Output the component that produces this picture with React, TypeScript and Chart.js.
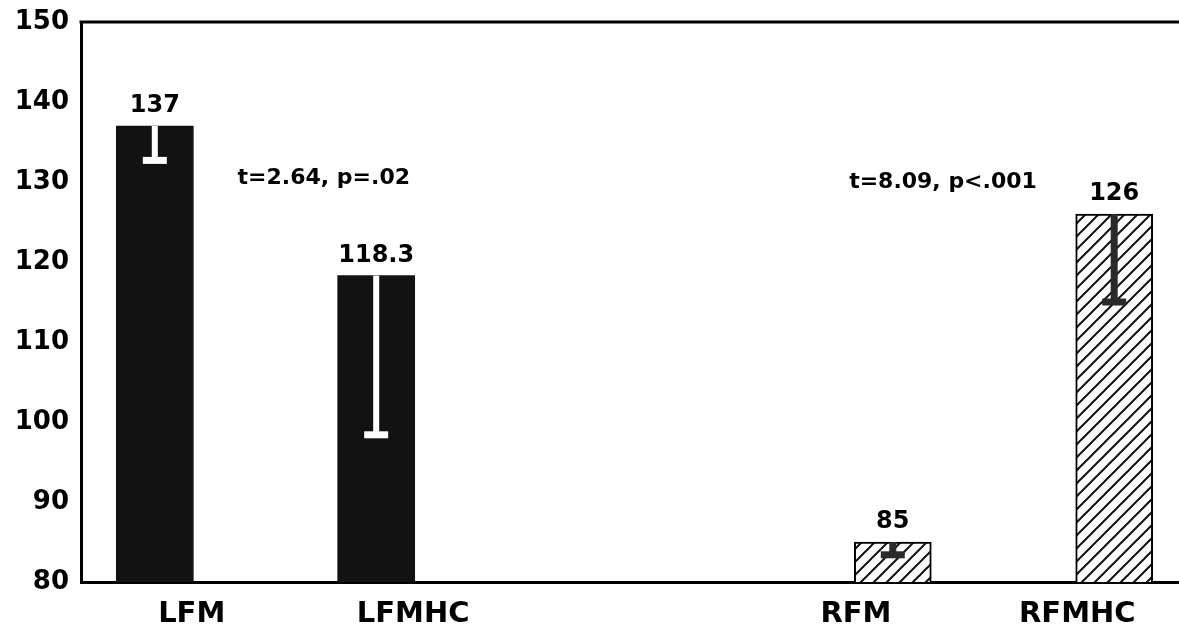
import React, { useEffect, useRef } from "react";
import { Chart, registerables } from "chart.js";

Chart.register(...registerables);

// ---- data ----
const categories = ["LFM", "LFMHC", "RFM", "RFMHC"];
const means = [137, 118.3, 85, 126];
const errorLow = [132.7, 98.4, 83.4, 115];
const hatched = [false, false, true, true];
// category slots of the x axis (blank entries are spacing slots)
const barSlots = ["", "LFM", "", "", "LFMHC", "", "", "", "", "", "", "RFM", "", "", "RFMHC", ""];
const labelSlots = ["", "LFM", "", "", "LFMHC", "", "", "", "", "", "RFM", "", "", "RFMHC", ""];
const yMin = 80;
const yMax = 150;
const yStep = 10;
const annotationTexts = ["t=2.64, p=.02", "t=8.09, p<.001"];
const annotationSlot = [3.29, 11.68];
const annotationValue = [129.75, 129.25];

const FONT = "'DejaVu Sans', 'Liberation Sans', sans-serif";

function makeHatch(): CanvasPattern | string {
  const size = 13;
  const c = document.createElement("canvas");
  c.width = size;
  c.height = size;
  const g = c.getContext("2d");
  if (!g) return "#fff";
  g.fillStyle = "#fff";
  g.fillRect(0, 0, size, size);
  g.strokeStyle = "#111";
  g.lineWidth = 2;
  g.beginPath();
  g.moveTo(-2, size + 2);
  g.lineTo(size + 2, -2);
  g.moveTo(-3, 3);
  g.lineTo(3, -3);
  g.moveTo(size - 3, size + 3);
  g.lineTo(size + 3, size - 3);
  g.stroke();
  const p = g.createPattern(c, "repeat");
  return p || "#fff";
}

export default function App() {
  const ref = useRef<HTMLCanvasElement | null>(null);

  useEffect(() => {
    const canvas = ref.current;
    if (!canvas) return;
    const hatch = makeHatch();
    const catOf = (slotIndex: number) => categories.indexOf(barSlots[slotIndex]);
    const data = barSlots.map((s) => {
      const i = categories.indexOf(s);
      return i >= 0 ? means[i] : null;
    });

    const overlay = {
      id: "overlay",
      afterDatasetsDraw(chart: any) {
        const ctx = chart.ctx;
        const meta = chart.getDatasetMeta(0);
        const ys = chart.scales.y;
        const xs = chart.scales.x;
        ctx.save();
        categories.forEach((c, i) => {
          const idx = barSlots.indexOf(c);
          const el = meta.data[idx];
          if (!el) return;
          const xc = el.x;
          const top = el.y;
          const low = ys.getPixelForValue(errorLow[i]);
          ctx.fillStyle = hatched[i] ? "#2a2a2a" : "#ffffff";
          const stem = hatched[i] ? 7 : 6;
          ctx.fillRect(xc - stem / 2, top, stem, low - top);
          ctx.fillRect(xc - 12, low - 3.5, 24, 7);
          ctx.fillStyle = "#000";
          ctx.font = `bold 24px ${FONT}`;
          ctx.textAlign = "center";
          ctx.textBaseline = "alphabetic";
          ctx.fillText(String(means[i]), xc, top - 14);
        });
        ctx.font = `bold 22px ${FONT}`;
        ctx.textAlign = "center";
        ctx.textBaseline = "alphabetic";
        ctx.fillStyle = "#000";
        annotationTexts.forEach((t, i) => {
          ctx.fillText(t, xs.getPixelForValue(annotationSlot[i]), ys.getPixelForValue(annotationValue[i]));
        });
        // top frame line
        const ca = chart.chartArea;
        ctx.strokeStyle = "#000";
        ctx.lineWidth = 3;
        ctx.beginPath();
        ctx.moveTo(ca.left - 1.5, ca.top);
        ctx.lineTo(chart.width, ca.top);
        ctx.stroke();
        ctx.restore();
      },
    };

    const chart = new Chart(canvas, {
      type: "bar",
      data: {
        labels: barSlots,
        datasets: [
          {
            data,
            backgroundColor: (c: any) => (hatched[catOf(c.dataIndex)] ? hatch : "#121212"),
            borderColor: "#000",
            borderWidth: (c: any) => (hatched[catOf(c.dataIndex)] ? 2 : 0),
            barThickness: 77,
          } as any,
        ],
      },
      options: {
        animation: false,
        responsive: false,
        devicePixelRatio: 1,
        layout: { padding: { top: 22, left: 0, right: 0, bottom: 0 } },
        plugins: { legend: { display: false }, tooltip: { enabled: false } },
        scales: {
          x: {
            type: "category",
            offset: false,
            weight: 0,
            grid: { color: "transparent", drawTicks: false, offset: false },
            border: { display: true, color: "#000", width: 3 },
            ticks: { display: false },
            afterFit: (s: any) => {
              s.height = 0;
              s.paddingLeft = 0;
              s.paddingRight = 0;
            },
          },
          xl: {
            type: "category",
            position: "bottom",
            labels: labelSlots,
            offset: true,
            weight: 1,
            grid: { display: false, drawTicks: false },
            border: { display: false },
            ticks: {
              color: "#000",
              padding: 15,
              autoSkip: false,
              maxRotation: 0,
              font: { family: FONT, size: 29, weight: "bold" },
            },
            afterFit: (s: any) => {
              s.height = 48;
              s.paddingLeft = 0;
              s.paddingRight = 0;
            },
          },
          y: {
            min: yMin,
            max: yMax,
            grid: { color: "transparent", drawTicks: false },
            border: { display: true, color: "#000", width: 3 },
            ticks: {
              stepSize: yStep,
              color: "#000",
              padding: 12,
              font: { family: FONT, size: 26, weight: "bold" },
            },
            afterFit: (s: any) => {
              s.width = 81;
              s.paddingTop = 0;
              s.paddingBottom = 0;
            },
          },
        } as any,
      },
      plugins: [overlay],
    });
    return () => chart.destroy();
  }, []);

  return (
    <div
      style={{
        position: "fixed",
        left: 0,
        top: 0,
        width: 1179,
        height: 630,
        overflow: "hidden",
        background: "#fff",
      }}
    >
      <canvas ref={ref} width={1188} height={630} style={{ display: "block", width: 1188, height: 630 }} />
    </div>
  );
}
